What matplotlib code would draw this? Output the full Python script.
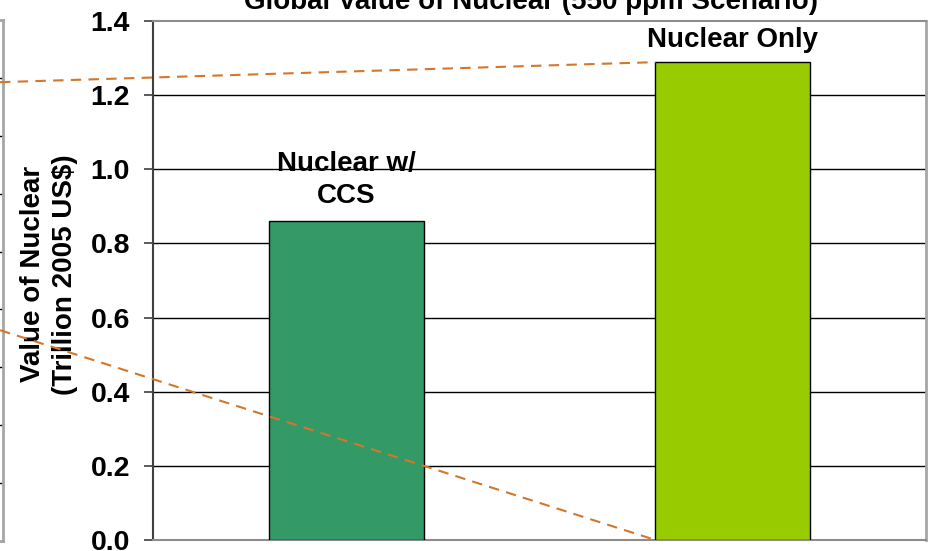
import matplotlib
matplotlib.use("Agg")
import matplotlib.pyplot as plt
import numpy as np

# ---- data ----
categories = ["Nuclear w/\nCCS", "Nuclear Only"]
values = [0.86, 1.289]
bar_colors = ["#339966", "#99CC00"]
yticks = [0.0, 0.2, 0.4, 0.6, 0.8, 1.0, 1.2, 1.4]
title = "Global Value of Nuclear (550 ppm Scenario)"
ylabel = "Value of Nuclear\n(Trillion 2005 US$)"
# zoom-connector lines from the previous panel (left end y in data units)
connector_left_y = [1.235, 0.566]

plt.rcParams['font.family'] = ['Liberation Sans', 'DejaVu Sans']
plt.rcParams['font.weight'] = 'bold'

W, H = 930, 551
fig = plt.figure(figsize=(W / 100, H / 100), dpi=100)

def px(x0, y0, x1, y1):
    return [x0 / W, 1 - y1 / H, (x1 - x0) / W, (y1 - y0) / H]

# remnants of previous panel on the far left
axl = fig.add_axes(px(-200, 20, 3, 541))
axl.set_xlim(0, 1)
axl.set_ylim(0, 521 / 57.9)
for yv in range(1, 9):
    axl.axhline(yv, color="black", lw=1.0)
axl.spines["left"].set_visible(False)
for s in ["right", "top", "bottom"]:
    axl.spines[s].set_color("#A6A6A6")
    axl.spines[s].set_linewidth(2)
axl.set_xticks([])
axl.set_yticks([])

# main axes
ax = fig.add_axes(px(153, 21, 926, 540))
x = np.arange(len(categories))
bw = 0.40
bars = ax.bar(x, values, width=bw, color=bar_colors, edgecolor="black",
              linewidth=1.0, zorder=3)
ax.set_xlim(-0.5, 1.5)
ax.set_ylim(0, 1.4)
ax.set_yticks(yticks)
ax.set_yticklabels([f"{v:.1f}" for v in yticks], fontsize=20.5, fontweight="bold")
ax.set_xticks([])
for yv in yticks[1:-1]:
    ax.axhline(yv, color="black", lw=1.0, zorder=1)
ax.spines["left"].set_color("#404040")
ax.spines["left"].set_linewidth(1.5)
for s in ["top", "bottom"]:
    ax.spines[s].set_color("#8C8C8C")
    ax.spines[s].set_linewidth(1.5)
ax.spines["right"].set_color("#A6A6A6")
ax.spines["right"].set_linewidth(2)
ax.tick_params(axis="y", direction="out", length=6.5, width=1.2, color="#404040", pad=10)

ax.set_ylabel(ylabel, fontsize=20, fontweight="bold", linespacing=1.3)
ax.yaxis.set_label_coords((78 - 153) / 773, 0.512)

offsets = [18, 15]
for xi, v, lab, off in zip(x, values, categories, offsets):
    ax.annotate(lab, (xi, v), xytext=(0, off), textcoords="offset pixels",
                ha="center", va="baseline", fontsize=20, fontweight="bold",
                linespacing=1.33)

fig.text(531 / W, 1 - 9 / H, title, ha="center", va="baseline",
         fontsize=20, fontweight="bold")

# zoom connector dashed lines (to corners of the second bar)
x_left = -0.5 - 153 / 773 * 2
bar2_left = x[1] - bw / 2
ax.plot([x_left, bar2_left], [connector_left_y[0], values[1]], ls=(0, (5, 3.5)),
        color="#D2772B", lw=1.5, clip_on=False, zorder=4)
ax.plot([x_left, bar2_left], [connector_left_y[1], 0], ls=(0, (5, 3.5)),
        color="#D2772B", lw=1.5, clip_on=False, zorder=4)

fig.savefig("out.png", dpi=100)
